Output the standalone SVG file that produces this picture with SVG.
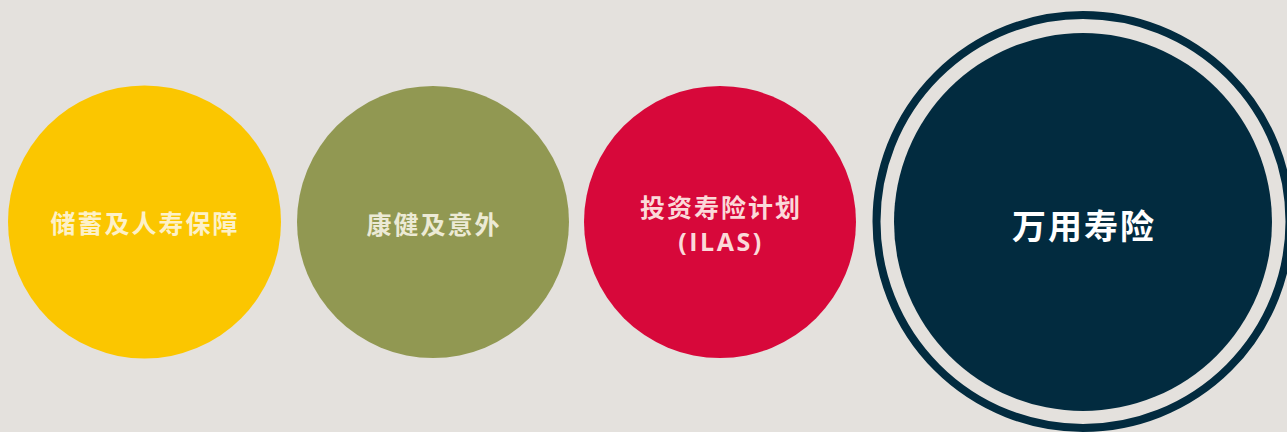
<svg xmlns="http://www.w3.org/2000/svg" width="1287" height="432" viewBox="0 0 1287 432">
<style>
.cjk{font-family:"Noto Sans CJK SC","Noto Sans CJK TC",sans-serif;font-weight:700;text-anchor:middle;dominant-baseline:central}
.lat{font-family:"Open Sans","Noto Sans",sans-serif;font-weight:700;text-anchor:middle;dominant-baseline:central}
</style>
<rect width="1287" height="432" fill="#e4e1dd"/>
<g id="node-savings">
<circle cx="144.5" cy="222" r="136.5" fill="#fbc600"/>
<text class="cjk" x="145" y="222" font-size="25" letter-spacing="2" fill="#fdf1c8">储蓄及人寿保障</text>
</g>
<g id="node-health">
<circle cx="433" cy="222" r="136" fill="#919852"/>
<text class="cjk" x="434" y="223" font-size="25" letter-spacing="2" fill="#ecead5">康健及意外</text>
</g>
<g id="node-ilas">
<circle cx="720" cy="222" r="136" fill="#d7083a"/>
<text class="cjk" x="721" y="205.5" font-size="25" letter-spacing="2" fill="#fbd9d9">投资寿险计划</text>
<text class="lat" x="721" y="241" font-size="25" letter-spacing="2.5" fill="#fbd9d9">(ILAS)</text>
</g>
<g id="node-universal">
<circle cx="1083" cy="221.5" r="206.5" fill="none" stroke="#022b3f" stroke-width="8"/>
<circle cx="1083" cy="222" r="189" fill="#022b3f"/>
<text class="cjk" x="1084" y="224" font-size="34" letter-spacing="2" fill="#ffffff">万用寿险</text>
</g>
<g id="connectors"/>
</svg>
